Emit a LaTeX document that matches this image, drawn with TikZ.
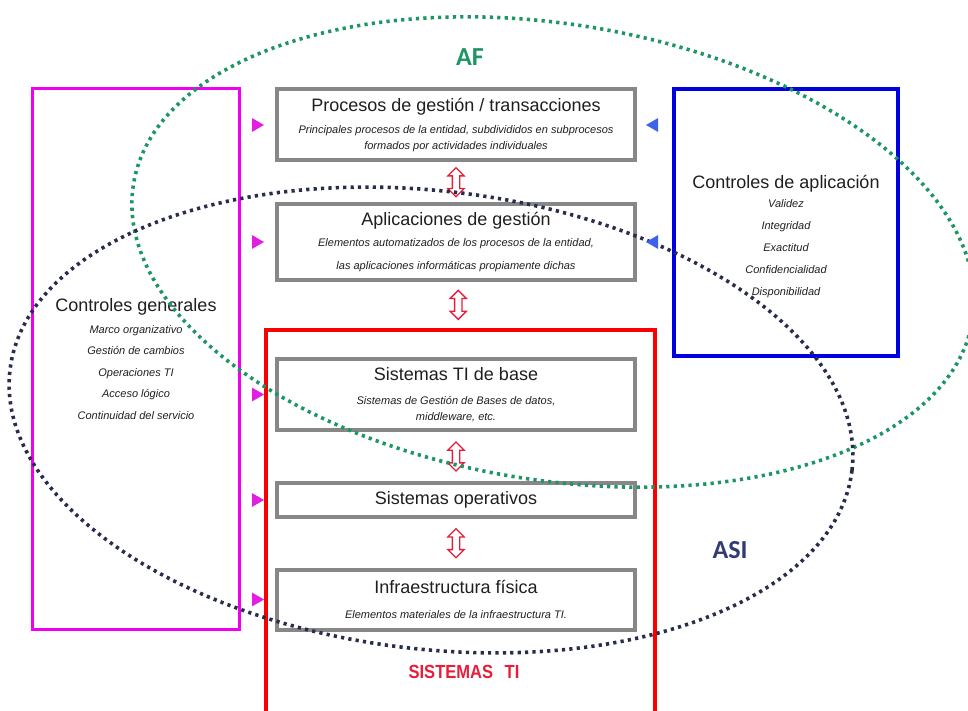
\documentclass[tikz,border=0pt]{standalone}
\usepackage{fontspec}
\setmainfont{Liberation Sans}
\newfontfamily\calibri{Carlito}
\usetikzlibrary{shapes.geometric,shapes.arrows}
\definecolor{afgreen}{RGB}{30,150,100}
\definecolor{asidots}{RGB}{40,45,75}
\definecolor{asitxt}{RGB}{50,60,115}
\definecolor{boxgray}{RGB}{135,135,135}
\definecolor{magbox}{RGB}{240,0,240}
\definecolor{magtri}{RGB}{225,30,225}
\definecolor{bluebox}{RGB}{0,0,225}
\definecolor{bluetri}{RGB}{60,100,235}
\definecolor{redbox}{RGB}{250,0,0}
\definecolor{redtxt}{RGB}{230,30,60}
\newcommand{\ttl}{\normalfont\fontsize{18}{22}\selectfont}

\begin{document}
\begin{tikzpicture}[
    x=1pt,y=-1pt,
    box/.style={draw=boxgray, line width=4pt, fill=white, minimum width=358pt, inner sep=0pt,
      align=center, text=black!88, font=\itshape\fontsize{11}{16}\selectfont},
    ctrl/.style={line width=3.5pt, inner sep=0pt, align=center, text=black!88},
    dots/.style={line width=3.6pt, dash pattern=on 3.2pt off 4.2pt},
    lmark/.style={isosceles triangle, isosceles triangle apex angle=60, fill=magtri,
      inner sep=0pt, minimum size=12pt},
    rmark/.style={lmark, fill=bluetri, shape border rotate=180},
    dblarrow/.style={double arrow, draw=redtxt, fill=white, line width=1.3pt, rotate=90,
      double arrow head extend=4.5pt, inner sep=3pt, minimum height=29pt}
    ]
    \useasboundingbox (0,0) rectangle (968,711);
    \node[ctrl, draw=redbox, line width=4.5pt, minimum width=389pt, minimum height=400pt] (sisti) at (460.5,530) {};
    \node[ctrl, draw=magbox, line width=3pt, minimum width=207pt, minimum height=541pt,
      font=\itshape\fontsize{11}{21.5}\selectfont] (cgen) at (136,359)
      {{\ttl Controles generales}\\ Marco organizativo\\ Gestión de cambios\\ Operaciones TI\\
       Acceso lógico\\ Continuidad del servicio};
    \node[ctrl, draw=bluebox, minimum width=224pt, minimum height=267pt] (capl) at (786,222.5) {};
    \node[ctrl, font=\itshape\fontsize{11}{22}\selectfont] (capltxt) at ([yshift=-14pt]capl.center)
      {{\ttl Controles de aplicación}\\[-2.5pt] Validez\\ Integridad\\ Exactitud\\ Confidencialidad\\ Disponibilidad};
    \node[box, minimum height=71pt] (proc) at (456,125)
      {{\ttl Procesos de gestión / transacciones}\\[6pt]
       Principales procesos de la entidad, subdivididos en subprocesos\\
       formados por actividades individuales};
    \node[box, minimum height=76pt] (apl) at (456,242)
      {{\ttl Aplicaciones de gestión}\\[5.5pt]
       Elementos automatizados de los procesos de la entidad,\\[7pt]
       las aplicaciones informáticas propiamente dichas};
    \node[box, minimum height=71pt] (base) at (456,394.5)
      {{\ttl Sistemas TI de base}\\[7.5pt]
       Sistemas de Gestión de Bases de datos,\\ middleware, etc.};
    \node[box, minimum height=34pt] (so) at (456,500) {{\ttl Sistemas operativos}};
    \node[box, minimum height=60pt] (infra) at (456,599.5)
      {{\ttl Infraestructura física}\\[9.5pt]
       Elementos materiales de la infraestructura TI.};
    \path (proc.south) -- node[dblarrow] (a1) {} (apl.north);
    \path (apl.south) -- node[dblarrow] (a2) {} (sisti.north);
    \path (base.south) -- node[dblarrow] (a3) {} (so.north);
    \path (so.south) -- node[dblarrow] (a4) {} (infra.north);
    \node[font=\calibri\bfseries\fontsize{26}{30}\selectfont, text=afgreen] (af) at (470,57) {AF};
    \node[font=\calibri\bfseries\fontsize{26}{30}\selectfont, text=asitxt] (asi) at (730,550) {ASI};
    \node[font=\bfseries\fontsize{19}{22}\selectfont, text=redtxt, xscale=0.87] (stit) at (464,672)
      {SISTEMAS\hspace{0.7em}TI};
    \draw[dots, afgreen, rotate around={-9.2:(553,252)}] (553,252) ellipse [x radius=425pt, y radius=228pt];
    \draw[dots, asidots, rotate around={-6.8:(431,420)}] (431,420) ellipse [x radius=424pt, y radius=229pt];
    \node[lmark] (m1) at ([xshift=-19pt]proc.west) {};
    \node[lmark] (m2) at ([xshift=-19pt]apl.west) {};
    \node[lmark] (m3) at ([xshift=-19pt]base.west) {};
    \node[lmark] (m4) at ([xshift=-19pt]so.west) {};
    \node[lmark] (m5) at ([xshift=-19pt]infra.west) {};
    \node[rmark] (b1) at ([xshift=17pt]proc.east) {};
    \node[rmark] (b2) at ([xshift=17pt]apl.east) {};
  \end{tikzpicture}
\end{document}
